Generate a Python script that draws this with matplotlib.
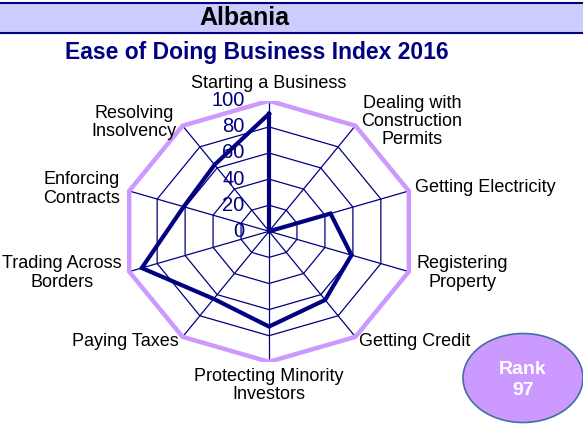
import numpy as np
import matplotlib
matplotlib.use("Agg")
import matplotlib.pyplot as plt
from matplotlib.patches import Ellipse, Rectangle

plt.rcParams['font.family'] = ['Liberation Sans', 'DejaVu Sans']

COUNTRY = "Albania"
TITLE = "Ease of Doing Business Index 2016"
RANK = 97

categories = ["Starting a Business", "Dealing with\nConstruction\nPermits",
              "Getting Electricity", "Registering\nProperty", "Getting Credit",
              "Protecting Minority\nInvestors", "Paying Taxes",
              "Trading Across\nBorders", "Enforcing\nContracts",
              "Resolving\nInsolvency"]
scores = [90, 0, 44, 59, 65, 73, 64, 91, 61, 63]
ticks = [0, 20, 40, 60, 80, 100]

# label anchors (unit-ellipse coords) and alignment
label_pos = [(0, 1.13), (0.973, 0.84), (0.99, 0.332), (1.313, -0.32),
             (0.61, -0.848), (0, -1.18), (-0.615, -0.848), (-1.41, -0.32),
             (-1.272, 0.324), (-0.918, 0.832)]
label_ha = ["center", "center", "left", "center", "left",
            "center", "right", "center", "center", "center"]

NAVY = "#000080"
LILAC = "#cc99ff"

fig = plt.figure(figsize=(5.83, 4.29), dpi=100)

# header band
fig.patches.append(Rectangle((0, 1 - 33 / 429), 1, 30 / 429, transform=fig.transFigure,
                             facecolor="#ccccff", edgecolor="none", zorder=0))
for yy in [1 - 3 / 429, 1 - 33 / 429]:
    fig.add_artist(plt.Line2D([0, 1], [yy, yy], transform=fig.transFigure,
                              color=NAVY, lw=1.5))
fig.text(244 / 583, 1 - 18 / 429, COUNTRY, ha="center", va="center",
         fontsize=18, fontweight="bold", color="black")
fig.text(257 / 583, 1 - 53 / 429, TITLE, ha="center", va="center",
         fontsize=16.5, fontweight="bold", color=NAVY)

ax = fig.add_axes([122 / 583, 67.2 / 429, 294 / 583, 261 / 429])
ax.set_xlim(-1, 1)
ax.set_ylim(-1, 1)
ax.axis("off")

n = len(categories)
ang = np.arange(n) * 2 * np.pi / n
sx, sy = np.sin(ang), np.cos(ang)

# grid rings
for t in ticks[1:-1]:
    r = t / 100
    ax.plot(np.append(sx, sx[0]) * r, np.append(sy, sy[0]) * r, color=NAVY, lw=0.9)
# spokes
for i in range(n):
    ax.plot([0, sx[i]], [0, sy[i]], color=NAVY, lw=0.9)
# outer border
ax.plot(np.append(sx, sx[0]), np.append(sy, sy[0]), color=LILAC, lw=3.2,
        solid_joinstyle="miter")

# data
v = np.array(scores) / 100
ax.plot(np.append(sx * v, sx[0] * v[0]), np.append(sy * v, sy[0] * v[0]),
        color=NAVY, lw=3, zorder=5, solid_joinstyle="miter")

# radial tick labels
for t in ticks:
    ax.text(-0.165, t / 100, str(t), ha="right", va="center", fontsize=14.5,
            color=NAVY, zorder=6)

# category labels
for lab, (x, y), ha in zip(categories, label_pos, label_ha):
    ax.text(x, y, lab, ha=ha, va="center", fontsize=13, color="black",
            linespacing=1.1, clip_on=False)

# rank badge
fig.patches.append(Ellipse((523 / 583, 1 - 378 / 429), 120 / 583, 89 / 429,
                           transform=fig.transFigure, facecolor=LILAC,
                           edgecolor="#41719c", lw=1.2))
fig.text(523 / 583, 1 - 380 / 429, f"Rank\n{RANK}", ha="center", va="center",
         fontsize=14, fontweight="bold", color="white", linespacing=1.25)

fig.savefig("out.png", dpi=100)
